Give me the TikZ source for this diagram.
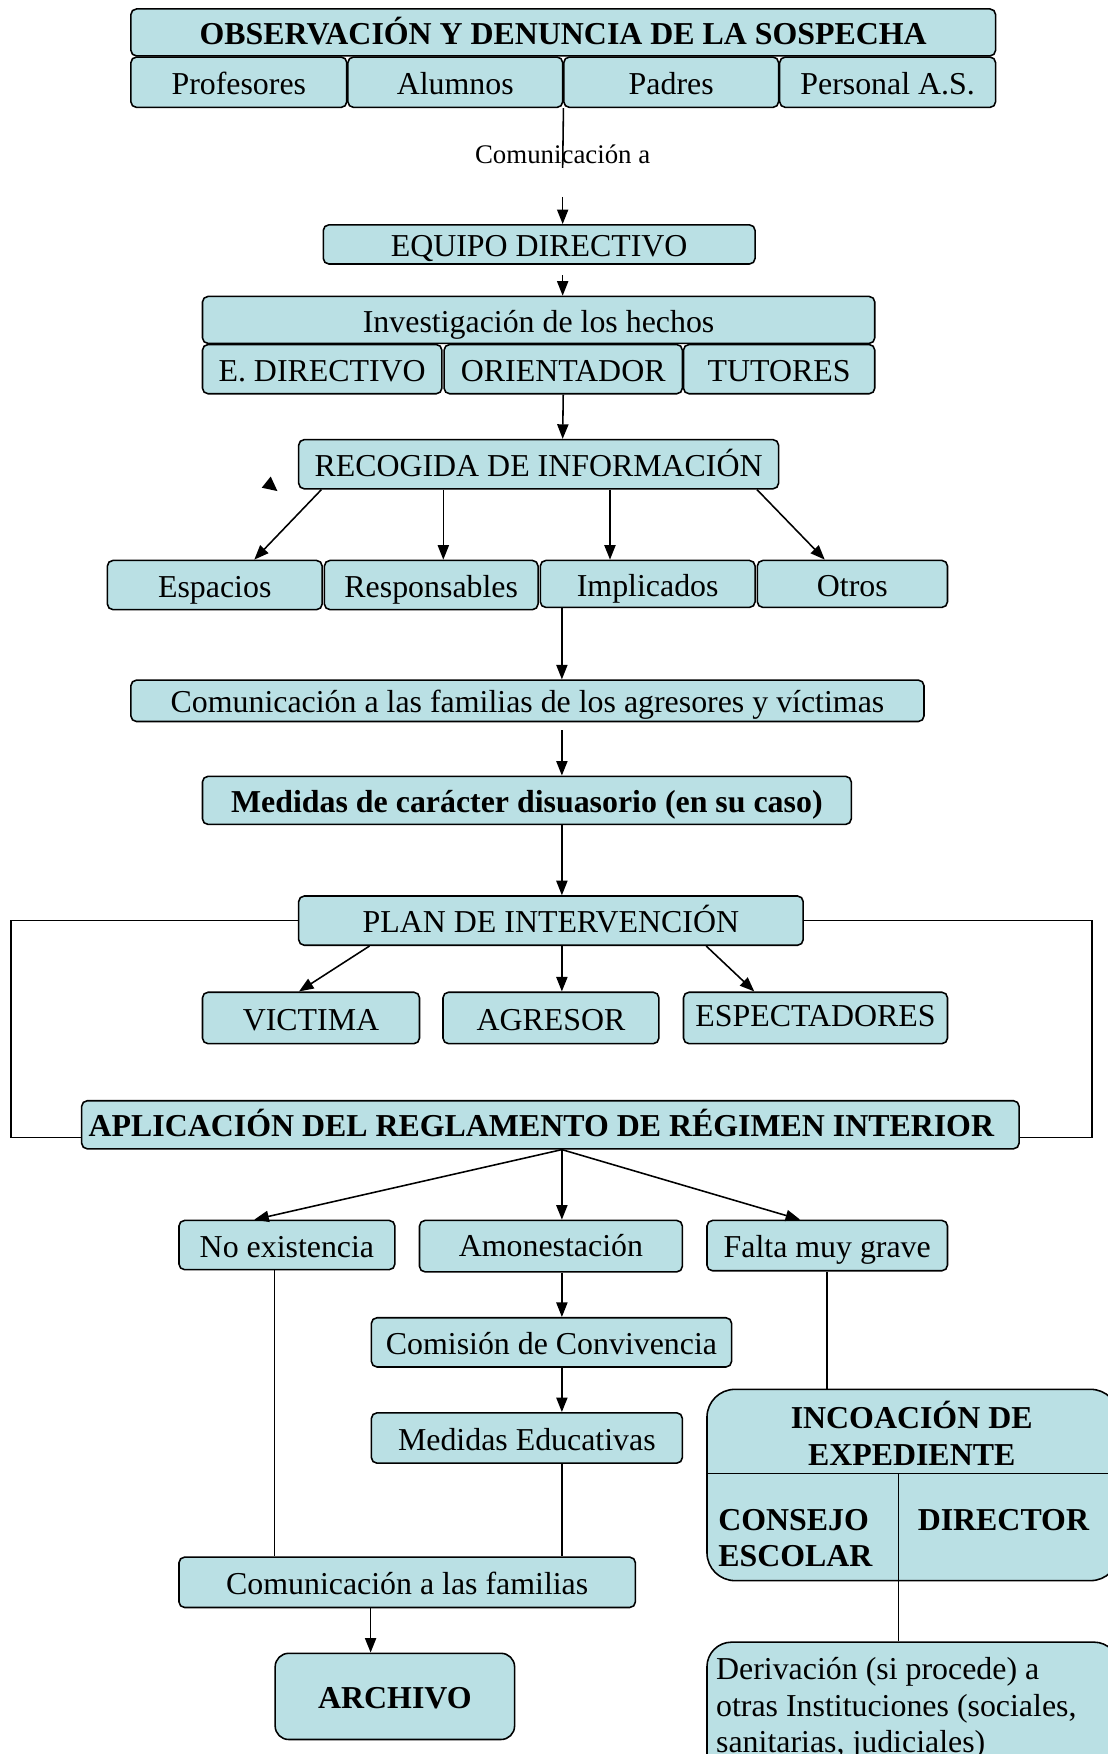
\documentclass[tikz,border=0pt]{standalone}
\usepackage{fontspec}
\setmainfont{Liberation Serif}
\usetikzlibrary{arrows.meta}
\definecolor{boxc}{RGB}{186,224,228}
\newcommand{\fbig}{\fontsize{28.5}{33}\selectfont}
\newcommand{\fsmall}{\fontsize{24}{28}\selectfont}
\begin{document}
\begin{tikzpicture}[x=1pt,y=-1pt,
  bx/.style={draw, fill=boxc, rounded corners=5pt, line width=1.4pt, inner sep=0pt,
             font=\fbig, text height=24.5pt, text depth=2.9pt},
  bbx/.style={bx, font=\fbig\bfseries},
  arr/.style={line width=1.4pt, -{Triangle[length=13pt,width=10pt]}},
  ln/.style={line width=1.4pt},
  txt/.style={inner sep=0pt}]
\useasboundingbox (0,0) rectangle (990,1568);

% --- top block
\node[bbx, minimum width=773pt, minimum height=42pt] (obs) at (503.5,29) {OBSERVACIÓN Y DENUNCIA DE LA SOSPECHA};
\node[bx, minimum width=193pt, minimum height=45pt] (prof) at (213.5,73.5) {Profesores};
\node[bx, minimum width=192pt, minimum height=45pt] (alu) at (407,73.5) {Alumnos};
\node[bx, minimum width=192pt, minimum height=45pt] (pad) at (600,73.5) {Padres};
\node[bx, minimum width=193pt, minimum height=45pt] (pers) at (793.5,73.5) {Personal A.S.};

\coordinate (c1) at (503,150);
\draw[ln] (alu.south east) -- (c1);
\node[txt, font=\fsmall] (coma) at (503,138) {Comunicación a};
\coordinate (c2) at (503,176);

\node[bx, minimum width=386pt, minimum height=35pt] (eq) at (482,218.5) {EQUIPO DIRECTIVO};
\draw[arr] (c2) -- ([xshift=21pt]eq.north);

% --- investigation
\node[bx, minimum width=601pt, minimum height=42pt] (inv) at (481.5,286) {Investigación de los hechos};
\node[bx, minimum width=214pt, minimum height=44pt] (edir) at (288,330) {E. DIRECTIVO};
\node[bx, minimum width=213pt, minimum height=44pt] (ori) at (503.5,330) {ORIENTADOR};
\node[bx, minimum width=171pt, minimum height=44pt] (tut) at (696.5,330) {TUTORES};
\coordinate (c3) at (503,246);
\draw[arr] (c3) -- ([xshift=21.5pt]inv.north);

\node[bx, minimum width=429pt, minimum height=44pt] (rec) at (481.5,415) {RECOGIDA DE INFORMACIÓN};
\draw[arr] (ori.south) -- ([xshift=21.5pt]rec.north);

\fill (234,436) -- (242,426) -- (248,439) -- cycle;

\node[bx, minimum width=192pt, minimum height=44pt] (esp) at (192,523) {Espacios};
\node[bx, minimum width=191pt, minimum height=44pt] (resp) at (385.5,523) {Responsables};
\node[bx, minimum width=192pt, minimum height=42pt] (impl) at (579,522) {Implicados};
\node[bx, minimum width=170pt, minimum height=42pt] (otr) at (762,522) {Otros};
\draw[arr] ([xshift=21pt]rec.south west) -- ([xshift=132pt]esp.north west);
\draw[arr] ([xshift=130pt]rec.south west) -- ([xshift=107pt]resp.north west);
\draw[arr] ([xshift=279pt]rec.south west) -- ([xshift=63pt]impl.north west);
\draw[arr] ([xshift=-20pt]rec.south east) -- ([xshift=61pt]otr.north west);

% --- middle chain
\node[bx, minimum width=709pt, minimum height=37pt] (cf) at (471.5,626.5) {Comunicación a las familias de los agresores y víctimas};
\draw[arr] ([xshift=20pt]impl.south west) -- ([xshift=386pt]cf.north west);
\node[bbx, minimum width=580pt, minimum height=43pt] (md) at (471,715.5) {Medidas de carácter disuasorio (en su caso)};
\draw[arr] ([xshift=386pt,yshift=-7pt]cf.south west) -- ([xshift=322pt]md.north west);
\node[bx, minimum width=451pt, minimum height=44pt] (plan) at (492.5,823) {PLAN DE INTERVENCIÓN};
\draw[arr] ([xshift=322pt]md.south west) -- ([xshift=236pt]plan.north west);

\node[bx, minimum width=194pt, minimum height=46pt] (vic) at (278,910) {VICTIMA};
\node[bx, minimum width=193pt, minimum height=46pt] (agr) at (492.5,910) {AGRESOR};
\node[bx, minimum width=236pt, minimum height=46pt] (spec) at (729,910) {\raisebox{3pt}{ESPECTADORES}};
\draw[arr] ([xshift=64pt]plan.south west) -- ([xshift=87pt]vic.north west);
\draw[arr] ([xshift=236pt]plan.south west) -- ([xshift=107pt]agr.north west);
\draw[arr] ([xshift=365pt]plan.south west) -- ([xshift=64pt]spec.north west);

\node[bbx, minimum width=838pt, minimum height=43pt] (apl) at (492,1005.5) {\kern-16pt APLICACIÓN DEL REGLAMENTO DE RÉGIMEN INTERIOR};
\coordinate (lp) at (10,823);
\coordinate (rp) at (976,823);
\draw[ln] (plan.west) -- (lp) |- ([yshift=-11.5pt]apl.west);
\draw[ln] (plan.east) -- (rp) |- ([yshift=-11.5pt]apl.east);

% --- lower part
\node[bx, minimum width=193pt, minimum height=44pt] (noex) at (256.5,1113) {No existencia};
\node[bx, minimum width=235pt, minimum height=46pt] (amon) at (492.5,1114) {\raisebox{2pt}{Amonestación}};
\node[bx, minimum width=215pt, minimum height=45pt] (falta) at (739.5,1113.5) {Falta muy grave};
\coordinate (ap) at ([xshift=430pt]apl.south west);
\draw[arr] (ap) -- ([xshift=68pt]noex.north west);
\draw[arr] (ap) -- ([xshift=128pt]amon.north west);
\draw[arr] (ap) -- ([xshift=84pt]falta.north west);

\node[bx, minimum width=322pt, minimum height=44pt] (com) at (493,1200) {Comisión de Convivencia};
\draw[arr] ([xshift=128pt]amon.south west) -- ([xshift=171pt]com.north west);
\node[bx, minimum width=278pt, minimum height=45pt] (mde) at (471,1285.5) {Medidas Educativas};
\draw[arr] ([xshift=171pt]com.south west) -- ([xshift=171pt]mde.north west);

\node[bx, minimum width=408pt, minimum height=45pt] (comf) at (364,1414.5) {Comunicación a las familias};
\draw[ln] ([xshift=171pt]mde.south west) -- ([xshift=343pt]comf.north west);
\draw[ln] ([xshift=86pt]noex.south west) -- ([xshift=86pt]comf.north west);

\node[bbx, rounded corners=12pt, minimum width=214pt, minimum height=77pt] (arch) at (353,1516.5) {ARCHIVO};
\draw[arr] ([xshift=172pt]comf.south west) -- ([xshift=86pt]arch.north west);

% --- expediente
\node[bx, rounded corners=25pt, minimum width=368pt, minimum height=171pt] (inc) at (816,1327.5) {};
\draw[ln] ([xshift=108pt]falta.south west) -- ([xshift=108pt]inc.north west);
\draw[ln] ([yshift=-76pt]inc.north west) -- ([yshift=-76pt]inc.north east);
\draw[ln] ([xshift=172pt,yshift=-76pt]inc.north west) -- ([xshift=172pt]inc.south west);
\node[txt, font=\fbig\bfseries, align=center] (incT) at (815,1281.5) {INCOACIÓN DE\\EXPEDIENTE};
\node[txt, font=\fbig\bfseries, align=left, anchor=west] (cons) at (642,1375) {CONSEJO\\ESCOLAR};
\node[txt, font=\fbig\bfseries] (dir) at (897,1359) {DIRECTOR};

\node[bx, rounded corners=22pt, minimum width=368pt, minimum height=140pt] (der) at (816,1538) {};
\draw[ln] ([xshift=172pt]inc.south west) -- ([xshift=172pt]der.north west);
\node[txt, font=\fbig, align=left, anchor=north west] (derT) at (640,1481) {Derivación (si procede) a\\otras Instituciones (sociales,\\sanitarias, judiciales)};
\end{tikzpicture}
\end{document}
